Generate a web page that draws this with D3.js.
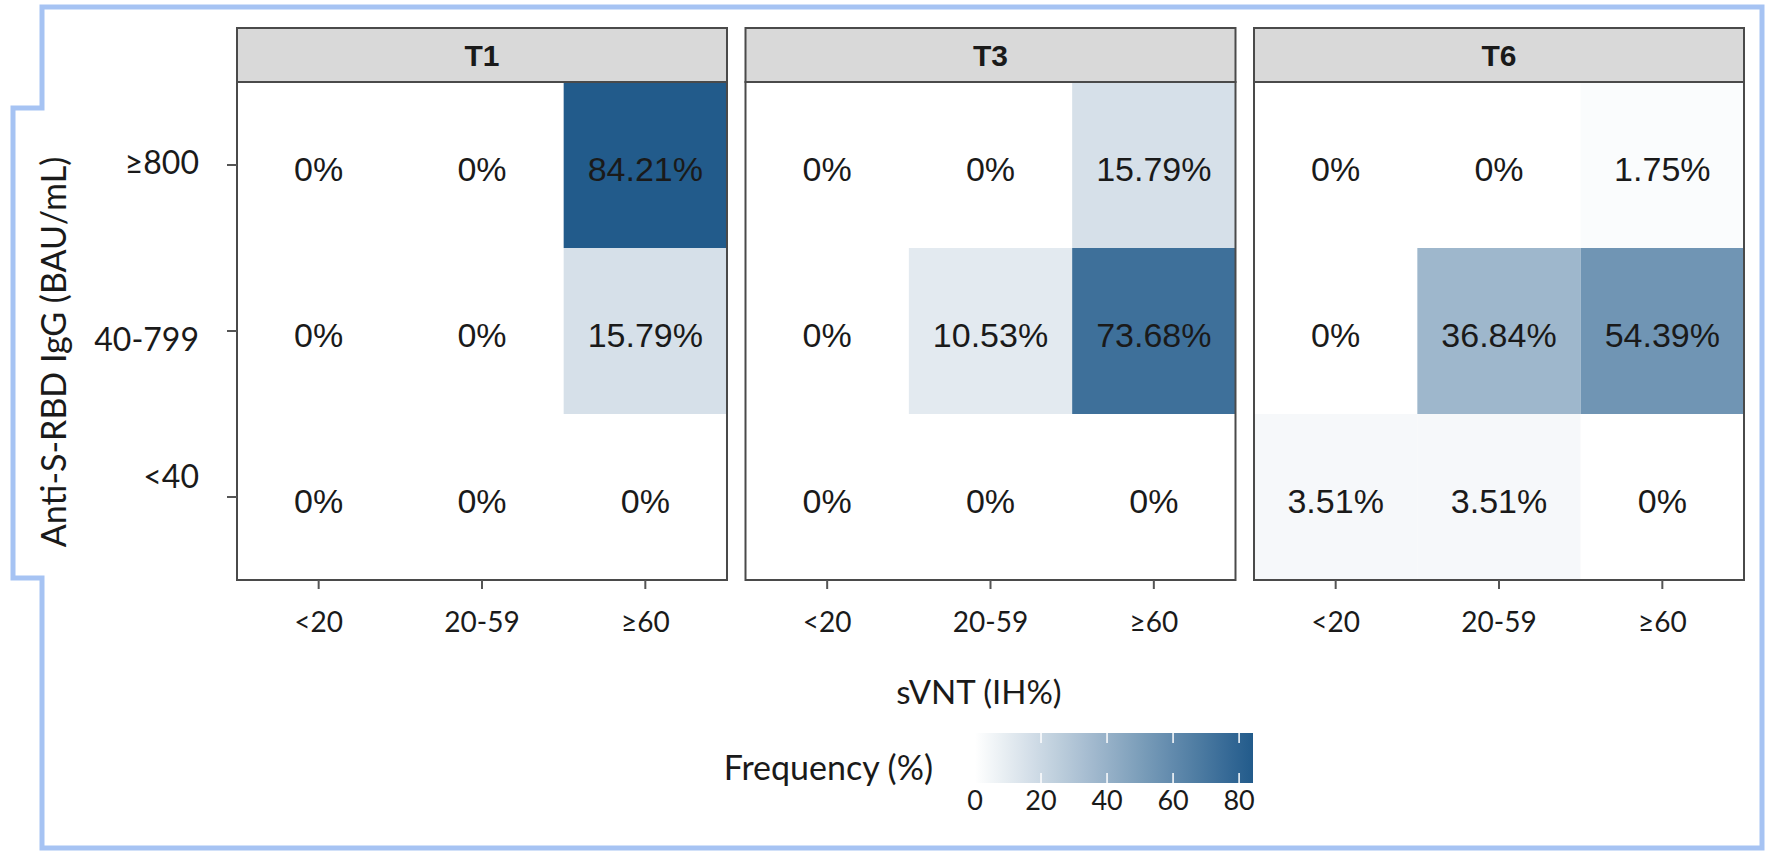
<!DOCTYPE html>
<html>
<head>
<meta charset="utf-8">
<script src="https://cdn.jsdelivr.net/npm/d3@7"></script>
<style>
  body { margin: 0; background: #fff; }
</style>
</head>
<body>
<div id="heatmap"></div>
<script>
// categories
var times = ["T1", "T3", "T6"];
var svntLevels = ["<20", "20-59", "≥60"];
var iggLevels = ["≥800", "40-799", "<40"];
// frequency (%) for each panel: rows follow iggLevels, columns follow svntLevels
var freqT1 = [[0, 0, 84.21], [0, 0, 15.79], [0, 0, 0]];
var freqT3 = [[0, 0, 15.79], [0, 10.53, 73.68], [0, 0, 0]];
var freqT6 = [[0, 0, 1.75], [0, 36.84, 54.39], [3.51, 3.51, 0]];
var legendTicks = [0, 20, 40, 60, 80];
var freqMax = 84.21;

var width = 1769, height = 853;
var plotTop = 82, plotBottom = 580, stripTop = 28;
var axisFont = "Lato, 'Open Sans', sans-serif";
var cellFont = "'Liberation Sans', Arial, sans-serif";
var borderColor = "#4a4a4a";

var svg = d3.select("#heatmap")
  .append("svg")
  .attr("width", width)
  .attr("height", height);

svg.append("rect").attr("width", width).attr("height", height).attr("fill", "#fff");

// light blue frame round the figure
svg.append("path")
  .attr("d", "M42,7H1762V848H42V578H13V108H42Z")
  .attr("fill", "none")
  .attr("stroke", "#a6c3f3")
  .attr("stroke-width", 5);

// build the table of cells
var freqByTime = { T1: freqT1, T3: freqT3, T6: freqT6 };
var cells = [];
times.forEach(function (t) {
  iggLevels.forEach(function (igg, i) {
    svntLevels.forEach(function (sv, j) {
      cells.push({ time: t, igg: igg, svnt: sv, value: freqByTime[t][i][j] });
    });
  });
});

// scales
var xPanel = d3.scaleBand().domain(times).range([237, 1744]).paddingInner(0.0364);
var x = d3.scaleBand().domain(svntLevels).range([0, xPanel.bandwidth()]);
var y = d3.scaleBand().domain(iggLevels).range([plotTop, plotBottom]);
var color = d3.scaleLinear().domain([0, freqMax]).range(["#ffffff", "#225b8b"]);

var panels = svg.selectAll(".panel")
  .data(times)
  .enter()
  .append("g")
  .attr("class", "panel")
  .attr("transform", function (d) { return "translate(" + xPanel(d) + ",0)"; });

// tiles
panels.selectAll("rect.tile")
  .data(function (t) { return cells.filter(function (c) { return c.time === t; }); })
  .enter()
  .append("rect")
  .attr("class", "tile")
  .attr("x", function (d) { return x(d.svnt); })
  .attr("y", function (d) { return y(d.igg); })
  .attr("width", x.bandwidth())
  .attr("height", y.bandwidth())
  .attr("fill", function (d) { return color(d.value); });

// labels in the tiles
panels.selectAll("text.cell")
  .data(function (t) { return cells.filter(function (c) { return c.time === t; }); })
  .enter()
  .append("text")
  .attr("class", "cell")
  .attr("x", function (d) { return x(d.svnt) + x.bandwidth() / 2; })
  .attr("y", function (d) { return y(d.igg) + y.bandwidth() / 2 + 4; })
  .attr("dy", "0.35em")
  .attr("text-anchor", "middle")
  .attr("font-family", cellFont)
  .attr("font-size", 34)
  .attr("fill", "#1a1a1a")
  .text(function (d) { return d.value === 0 ? "0%" : d.value.toFixed(2) + "%"; });

// panel border
panels.append("rect")
  .attr("x", 0)
  .attr("y", plotTop)
  .attr("width", xPanel.bandwidth())
  .attr("height", plotBottom - plotTop)
  .attr("fill", "none")
  .attr("stroke", borderColor)
  .attr("stroke-width", 2);

// strips
panels.append("rect")
  .attr("x", 0)
  .attr("y", stripTop)
  .attr("width", xPanel.bandwidth())
  .attr("height", plotTop - stripTop)
  .attr("fill", "#d9d9d9")
  .attr("stroke", borderColor)
  .attr("stroke-width", 2);

panels.append("text")
  .attr("x", xPanel.bandwidth() / 2)
  .attr("y", (stripTop + plotTop) / 2)
  .attr("dy", "0.36em")
  .attr("text-anchor", "middle")
  .attr("font-family", cellFont)
  .attr("font-weight", "bold")
  .attr("font-size", 30)
  .attr("fill", "#1a1a1a")
  .text(function (d) { return d; });

// x axes
panels.append("g")
  .attr("transform", "translate(0," + plotBottom + ")")
  .each(function () {
    d3.select(this).call(d3.axisBottom(x).tickSize(9).tickPadding(23));
  });

// y axis on the first panel only
var yAxis = svg.append("g")
  .attr("transform", "translate(" + xPanel(times[0]) + ",0)")
  .call(d3.axisLeft(y).tickSize(10).tickPadding(28));

svg.selectAll(".domain").remove();
svg.selectAll(".tick line").attr("stroke", "#555").attr("stroke-width", 2);
svg.selectAll(".tick text")
  .attr("font-family", axisFont)
  .attr("fill", "#1a1a1a");
panels.selectAll(".tick text").attr("font-size", 28);
// the y labels sit a little off their ticks in the original
var yNudge = [-2, 9, -20];
yAxis.selectAll(".tick text")
  .attr("font-size", 32)
  .attr("dy", function (d, i) { return (yNudge[i] + 11) + "px"; });

// axis titles
svg.append("text")
  .attr("transform", "translate(66,352) rotate(-90)")
  .attr("text-anchor", "middle")
  .attr("font-family", axisFont)
  .attr("font-size", 34)
  .attr("fill", "#1a1a1a")
  .text("Anti-S-RBD IgG (BAU/mL)");

svg.append("text")
  .attr("x", 979)
  .attr("y", 704)
  .attr("text-anchor", "middle")
  .attr("font-family", axisFont)
  .attr("font-size", 33)
  .attr("fill", "#1a1a1a")
  .text("sVNT (IH%)");

// colour bar legend
var legendX = d3.scaleLinear().domain([0, freqMax]).range([975, 1253]);
var barTop = 733, barHeight = 50;

var grad = svg.append("defs").append("linearGradient")
  .attr("id", "freqGrad")
  .attr("x1", "0%").attr("x2", "100%").attr("y1", "0%").attr("y2", "0%");
grad.selectAll("stop")
  .data(d3.range(0, 1.0001, 0.1))
  .enter()
  .append("stop")
  .attr("offset", function (d) { return (d * 100) + "%"; })
  .attr("stop-color", function (d) { return color(d * freqMax); });

svg.append("rect")
  .attr("x", legendX(0))
  .attr("y", barTop)
  .attr("width", legendX(freqMax) - legendX(0))
  .attr("height", barHeight)
  .attr("fill", "url(#freqGrad)");

var legendTickG = svg.append("g");
legendTicks.forEach(function (v) {
  if (v === 0) return;
  legendTickG.append("line")
    .attr("x1", legendX(v)).attr("x2", legendX(v))
    .attr("y1", barTop).attr("y2", barTop + 10)
    .attr("stroke", "#fff").attr("stroke-width", 1.5);
  legendTickG.append("line")
    .attr("x1", legendX(v)).attr("x2", legendX(v))
    .attr("y1", barTop + barHeight - 10).attr("y2", barTop + barHeight)
    .attr("stroke", "#fff").attr("stroke-width", 1.5);
});

svg.append("g")
  .selectAll("text")
  .data(legendTicks)
  .enter()
  .append("text")
  .attr("x", function (d) { return legendX(d); })
  .attr("y", 810)
  .attr("text-anchor", "middle")
  .attr("font-family", axisFont)
  .attr("font-size", 27)
  .attr("fill", "#1a1a1a")
  .text(function (d) { return d; });

svg.append("text")
  .attr("x", 933)
  .attr("y", 780)
  .attr("text-anchor", "end")
  .attr("font-family", axisFont)
  .attr("font-size", 34)
  .attr("fill", "#1a1a1a")
  .text("Frequency (%)");
</script>
</body>
</html>
